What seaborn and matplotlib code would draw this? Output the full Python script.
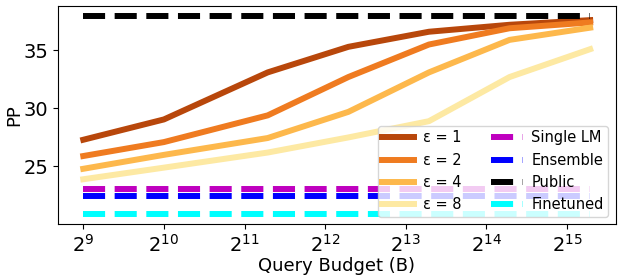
import matplotlib
matplotlib.use("Agg")
import pandas as pd
import seaborn as sns

import matplotlib.pyplot as plt

# query budgets (x axis, log2)
budgets = [512, 1024, 2500, 5000, 10000, 20000, 40000]

# private lines for each epsilon
eps_labels = ["ε = 1", "ε = 2", "ε = 4", "ε = 8"]
eps_1 = [27.3, 29.05, 33.1, 35.3, 36.6, 37.2, 37.6]
eps_2 = [25.9, 27.1, 29.4, 32.7, 35.5, 36.9, 37.4]
eps_4 = [24.8, 26.0, 27.45, 29.7, 33.1, 35.9, 36.95]
eps_8 = [23.9, 24.9, 26.2, 27.5, 28.9, 32.7, 35.1]
eps_colors = ["#b8470b", "#ef7b20", "#fdb84c", "#fde9a3"]

# baselines (flat)
base_labels = ["Single LM", "Ensemble", "Public", "Finetuned"]
base_values = [23.05, 22.45, 37.95, 20.9]
base_colors = ["m", "b", "k", "cyan"]

rows = []
for lab, vals in zip(eps_labels, [eps_1, eps_2, eps_4, eps_8]):
    for b, v in zip(budgets, vals):
        rows.append({"budget": b, "pp": v, "series": lab})
df = pd.DataFrame(rows)

fig, ax = plt.subplots(figsize=(6.23, 2.8), dpi=100)

sns.lineplot(
    data=df, x="budget", y="pp", hue="series",
    palette=dict(zip(eps_labels, eps_colors)),
    linewidth=4.3, ax=ax,
)
for lab, val, c in zip(base_labels, base_values, base_colors):
    sns.lineplot(
        x=budgets, y=[val] * len(budgets), color=c,
        linestyle="--", linewidth=4.3, label=lab, ax=ax,
    )

ax.set_xscale("log", base=2)
ax.set_xticks([2 ** k for k in range(9, 16)])
ax.tick_params(labelsize=14)
ax.set_xlabel("Query Budget (B)", fontsize=13, labelpad=1)
ax.set_ylabel("PP", fontsize=13, labelpad=0)
ax.legend(ncol=2, loc="lower right", fontsize=10.5, handlelength=2.2,
          borderpad=0.3, labelspacing=0.5, handletextpad=0.6,
          columnspacing=2.0)

plt.subplots_adjust(left=0.093, right=0.988, top=0.978, bottom=0.2)
plt.savefig("out.png")
